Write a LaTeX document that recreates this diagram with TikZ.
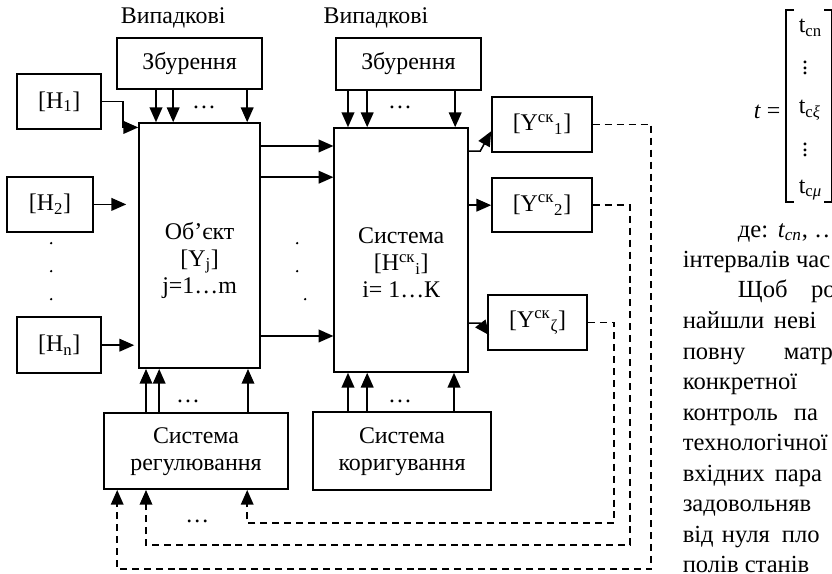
\documentclass[tikz,border=0pt]{standalone}
\usepackage{fontspec}
\setmainfont{Liberation Serif}
\usetikzlibrary{arrows.meta}

\begin{document}
\begin{tikzpicture}[
		font=\fontsize{17}{19.2}\selectfont,
		line width=1.1pt,
		>={Triangle[length=10.5pt,width=9pt]},
		box/.style={draw, inner sep=0pt, align=center},
		fb/.style={->, dash pattern=on 5pt off 3.5pt},
		txt/.style={anchor=base west, inner sep=0pt, font=\fontsize{17.5}{21}\selectfont}
	]
		\useasboundingbox (0,0) rectangle (20.8,-14.35);

		\node (rnd1) at (4.33,-0.45) {Випадкові};
		\node (rnd2) at (9.4,-0.45) {Випадкові};
		\node[box, minimum width=3.63cm, minimum height=1.28cm] (zb1) at (4.74,-1.59) {Збурення};
		\node[box, minimum width=3.63cm, minimum height=1.3cm] (zb2) at (10.21,-1.6) {Збурення};

		\node[box, minimum width=2.1cm, minimum height=1.38cm] (h1) at (1.48,-2.54) {[H\textsubscript{1}]};
		\node[box, minimum width=2.15cm, minimum height=1.38cm] (h2) at (1.25,-5.11) {[H\textsubscript{2}]};
		\node[box, minimum width=2.1cm, minimum height=1.4cm] (hn) at (1.48,-8.63) {[H\textsubscript{n}]};

		\node[box, minimum width=3.03cm, minimum height=6.13cm] (obj) at (4.99,-6.14) {};
		\node[align=center] (objtxt) at (4.99,-6.5) {Об’єкт\\{[Y\textsubscript{j}]}\\j=1…m};
		\node[box, minimum width=3.35cm, minimum height=6.1cm] (sys) at (10.03,-6.25) {};
		\node[align=center] (systxt) at (10.03,-6.58) {Система\\{[H\textsuperscript{ск}\textsubscript{i}]}\\i= 1…К};

		\node[box, minimum width=2.5cm, minimum height=1.38cm] (y1) at (13.55,-3.11) {[Y\textsuperscript{ск}\textsubscript{1}]};
		\node[box, minimum width=2.5cm, minimum height=1.35cm] (y2) at (13.55,-5.13) {[Y\textsuperscript{ск}\textsubscript{2}]};
		\node[box, minimum width=2.48cm, minimum height=1.38cm] (yz) at (13.44,-8.06) {[Y\textsuperscript{ск}\textsubscript{ζ}]};

		\node[box, minimum width=4.6cm, minimum height=1.9cm] (reg) at (4.9,-11.28) {Система\\регулювання};
		\node[box, minimum width=4.45cm, minimum height=1.95cm] (cor) at (10.05,-11.28) {Система\\коригування};

		% disturbances
		\draw[->] ([xshift=-0.84cm]zb1.south) -- ([xshift=-0.84cm]zb1.south |- obj.north);
		\draw[->] ([xshift=-0.41cm]zb1.south) -- ([xshift=-0.41cm]zb1.south |- obj.north);
		\draw[->] ([xshift=1.44cm]zb1.south) -- ([xshift=1.44cm]zb1.south |- obj.north);
		\node at (5.1,-2.68) {…};
		\draw[->] ([xshift=-1.51cm]zb2.south) -- ([xshift=-1.51cm]zb2.south |- sys.north);
		\draw[->] ([xshift=-1.03cm]zb2.south) -- ([xshift=-1.03cm]zb2.south |- sys.north);
		\draw[->] ([xshift=1.17cm]zb2.south) -- ([xshift=1.17cm]zb2.south |- sys.north);
		\node at (10.0,-2.68) {…};

		% inputs
		\draw[->] (h1.east) -- ++(0.53,0) |- ([yshift=-0.13cm]obj.north west);
		\draw[->, shorten >=0.3cm] (h2.east) -- (h2.east -| obj.west);
		\draw[->, shorten >=0.1cm] (hn.east) -- (hn.east -| obj.west);
		\fill (1.28,-6.08) circle (0.9pt) (1.28,-6.78) circle (0.9pt) (1.28,-7.48) circle (0.9pt);

		% object to system
		\draw[->] (obj.east |- 0,-3.65) -- (sys.west |- 0,-3.65);
		\draw[->] (obj.east |- 0,-4.43) -- (sys.west |- 0,-4.43);
		\draw[->] (obj.east |- 0,-8.4) -- (sys.west |- 0,-8.4);
		\fill (7.43,-6.08) circle (0.9pt) (7.43,-6.78) circle (0.9pt) (7.63,-7.48) circle (0.9pt);

		% outputs
		\draw[->] (sys.east |- 0,-3.78) -- ++(0.28,0) -- ([yshift=-0.17cm]y1.west);
		\draw[->] (sys.east |- y2.west) -- (y2.west);
		\draw[->] (sys.east |- 0,-8.08) -- ++(0.28,0) -- ([shift={(0.05cm,-0.32cm)}]yz.west);

		% control
		\draw[->] ([xshift=-1.25cm]reg.north) -- ([xshift=-1.25cm]reg.north |- obj.south);
		\draw[->] ([xshift=-0.92cm]reg.north) -- ([xshift=-0.92cm]reg.north |- obj.south);
		\draw[->] ([xshift=1.3cm]reg.north) -- ([xshift=1.3cm]reg.north |- obj.south);
		\node at (4.7,-10.03) {…};
		\draw[->] ([xshift=-1.35cm]cor.north) -- ([xshift=-1.35cm]cor.north |- sys.south);
		\draw[->] ([xshift=-0.87cm]cor.north) -- ([xshift=-0.87cm]cor.north |- sys.south);
		\draw[->] ([xshift=1.3cm]cor.north) -- ([xshift=1.3cm]cor.north |- sys.south);
		\node at (10.0,-10.03) {…};

		% feedback
		\coordinate (f1) at (16.28,-14.23);
		\coordinate (f2) at (15.75,-13.63);
		\coordinate (fz) at (15.35,-13.08);
		\draw[fb] (y1.east) -| (f1) -| ([xshift=-1.97cm]reg.south);
		\draw[fb] (y2.east) -| (f2) -| ([xshift=-1.25cm]reg.south);
		\draw[fb] (yz.east) -| (fz) -| ([xshift=1.28cm]reg.south);
		\node at (4.93,-13.03) {…};

		% matrix
		\node[anchor=east, inner sep=0pt] (teq) at (19.53,-2.8) {\textit{t} =};
		\node[anchor=west, inner sep=0pt] (tcn) at (19.95,-0.7) {t\textsubscript{cn}};
		\node[inner sep=0pt] (vd1) at (20.13,-1.6) {$\vdots$};
		\node[anchor=west, inner sep=0pt] (tcx) at (19.95,-2.75) {t\textsubscript{c\textit{ξ}}};
		\node[inner sep=0pt] (vd2) at (20.13,-3.65) {$\vdots$};
		\node[anchor=west, inner sep=0pt] (tcm) at (19.95,-4.75) {t\textsubscript{c\textit{μ}}};
		\draw[line width=0.8pt] (19.85,-0.25) -- (19.65,-0.25) -- (19.65,-5.05) -- (19.85,-5.05);
		\draw[line width=0.8pt] (20.6,-0.25) -- (20.78,-0.25) -- (20.78,-5.05) -- (20.6,-5.05);

		% text beside
		\node[txt] (l1) at (18.43,-5.93) {\makebox[1.0cm][l]{де:}\textit{t\textsubscript{cn}}, …};
		\node[txt] (l2) at (17.05,-6.69) {інтервалів час};
		\node[txt] (l3) at (18.43,-7.45) {\makebox[1.83cm][l]{Щоб}ро};
		\node[txt] (l4) at (17.05,-8.21) {\makebox[2.28cm][l]{найшли}неві};
		\node[txt] (l5) at (17.05,-8.98) {\makebox[2.53cm][l]{повну}матр};
		\node[txt] (l6) at (17.05,-9.74) {конкретної};
		\node[txt] (l7) at (17.05,-10.5) {\makebox[2.78cm][l]{контроль}па};
		\node[txt] (l8) at (17.05,-11.26) {технологічної};
		\node[txt] (l9) at (17.05,-12.03) {\makebox[2.3cm][l]{вхідних}пара};
		\node[txt] (l10) at (17.05,-12.79) {задовольняв};
		\node[txt] (l11) at (17.05,-13.55) {\makebox[0.98cm][l]{від}\makebox[1.5cm][l]{нуля}пло};
		\node[txt] (l12) at (17.05,-14.31) {полів станів};
	\end{tikzpicture}
\end{document}
